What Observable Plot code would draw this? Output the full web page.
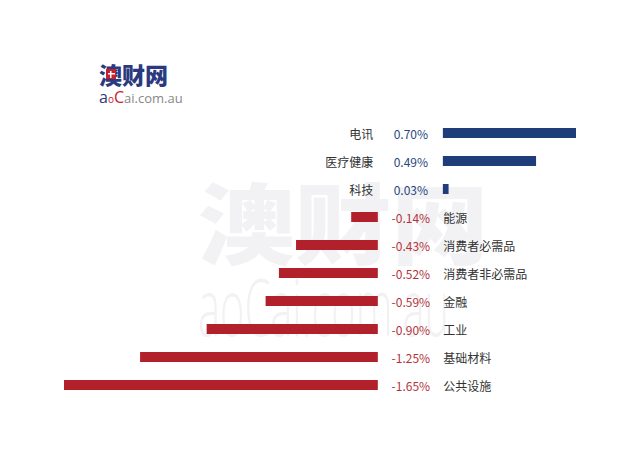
<!DOCTYPE html>
<html>
<head>
<meta charset="utf-8">
<script src="https://cdn.jsdelivr.net/npm/d3@7"></script>
<script src="https://cdn.jsdelivr.net/npm/@observablehq/plot@0.6"></script>
<style>
  html, body { margin: 0; padding: 0; background: #fff; }
  #wrap { position: relative; width: 640px; height: 454px; overflow: hidden; font-family: "Noto Sans CJK SC", "Noto Sans", sans-serif; }
  #wm { position: absolute; left: 0; top: 0; width: 640px; height: 454px; }
  #chart { position: absolute; left: 0; top: 0; }
  #logo { position: absolute; left: 99px; top: 60px; }
  #logo .cn { font-size: 23px; font-weight: 900; color: #2b3a80; line-height: 28px; position: relative; }
  #logo .box { position: absolute; left: 7px; top: 9px; width: 10px; height: 10px; background:
      linear-gradient(#fff, #fff) center / 1.5px 70% no-repeat,
      linear-gradient(#fff, #fff) center / 70% 1.5px no-repeat,
      #c8202c; }
  #logo .en { font-family: "Open Sans", sans-serif; font-size: 13px; color: #888; line-height: 16px; margin-top: 1px; }
  .wmcn { position: absolute; left: 198px; top: 175px; font-size: 88px; font-weight: 900; color: #f2f2f4; line-height: 88px; transform: scaleX(1.1); transform-origin: left top; white-space: nowrap; }
  .wmen { position: absolute; left: 198px; top: 265px; font-family: "Open Sans", sans-serif; font-weight: 300; font-size: 80px; color: #f2f2f4; line-height: 80px; transform: scaleX(0.52); transform-origin: left top; white-space: nowrap; }
</style>
</head>
<body>
<div id="wrap">
  <div id="wm"><div class="wmcn">澳财网</div><div class="wmen">aoCai.com.au</div></div>
  <div id="chart"></div>
  <div id="logo">
    <div class="cn">澳财网<div class="box"></div></div>
    <div class="en"><span style="color:#2b3a80;font-size:16px">a</span><span style="color:#c8202c;font-size:10px">o</span><span style="color:#c8202c;font-size:16px">C</span>ai.com.au</div>
  </div>
</div>
<script>
const categories = ["电讯", "医疗健康", "科技", "能源", "消费者必需品", "消费者非必需品", "金融", "工业", "基础材料", "公共设施"];
const values = [0.70, 0.49, 0.03, -0.14, -0.43, -0.52, -0.59, -0.90, -1.25, -1.65];
const valueLabels = ["0.70%", "0.49%", "0.03%", "-0.14%", "-0.43%", "-0.52%", "-0.59%", "-0.90%", "-1.25%", "-1.65%"];

// gap (in % units) between the end of negative bars and the start of positive bars
const GAP = 0.342;

const data = categories.map((c, i) => {
  const v = values[i];
  const pos = v >= 0;
  return {
    cat: c,
    v,
    label: valueLabels[i],
    pos,
    x1: pos ? GAP : v,
    x2: pos ? GAP + v : 0
  };
});

const blue = "#1f3d78", red = "#b1202b";
const blueText = "#2a4680", redText = "#b3333b";
const posData = data.filter(d => d.pos);
const negData = data.filter(d => !d.pos);

const chart = Plot.plot({
  width: 640,
  height: 454,
  style: { background: "transparent", fontFamily: "'Noto Sans CJK SC', 'Noto Sans', sans-serif", fontSize: "12px" },
  x: { axis: null, domain: [d3.min(values), d3.max(values) + GAP], range: [64, 576] },
  y: { axis: null, domain: categories, range: [119, 399], paddingInner: 0.643, paddingOuter: 0.3215 },
  marks: [
    Plot.barX(data, { x1: "x1", x2: "x2", y: "cat", fill: d => d.pos ? blue : red }),
    Plot.text(data, { x: GAP / 2, y: "cat", text: "label", textAnchor: "middle", dy: 1.5, fill: d => d.pos ? blueText : redText, fontSize: 12 }),
    Plot.text(posData, { x: 0, y: "cat", text: "cat", textAnchor: "end", dx: -5, dy: 1.5, fill: "#333", fontSize: 12 }),
    Plot.text(negData, { x: GAP, y: "cat", text: "cat", textAnchor: "start", dx: 0, dy: 1.5, fill: "#333", fontSize: 12 })
  ]
});
document.getElementById("chart").appendChild(chart);
</script>
</body>
</html>
